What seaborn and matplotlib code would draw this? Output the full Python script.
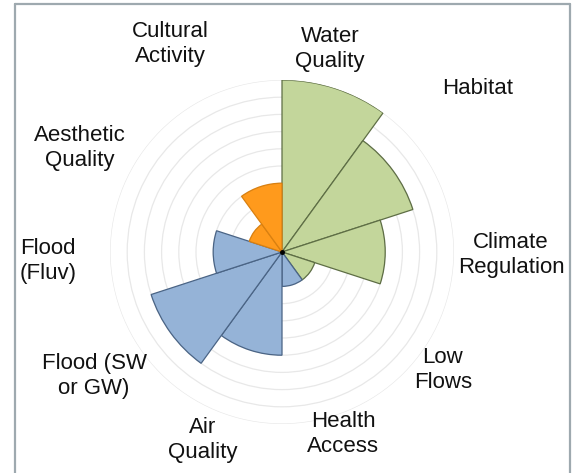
import numpy as np
import matplotlib
matplotlib.use("Agg")
import matplotlib.pyplot as plt
import seaborn as sns
from matplotlib.lines import Line2D

# ---- data ----
categories = ["Water\nQuality", "Habitat", "Climate\nRegulation", "Low\nFlows",
              "Health\nAccess", "Air\nQuality", "Flood (SW\nor GW)", "Flood\n(Fluv)",
              "Aesthetic\nQuality", "Cultural\nActivity"]
values = [10, 8, 6, 2, 2, 6, 8, 4, 2, 4]
groups = ["env", "env", "env", "env", "health", "health", "health", "health",
          "culture", "culture"]

# ---- styles ----
fill_colors = {"env": "#C3D69B", "health": "#95B3D7", "culture": "#FF9A1C"}
edge_colors = {"env": "#5E6E45", "health": "#4A6485", "culture": "#D98010"}
# label anchor positions in pixels (x, y from top)
label_px = [(330, 49), (478, 88), (511, 255), (443, 370), (343, 434),
            (203, 440), (94, 376), (48, 261), (80, 148), (170, 44)]

sns.set_theme(style="white")
plt.rcParams['font.family'] = ['Liberation Sans', 'DejaVu Sans']

W, H = 576, 473
fig = plt.figure(figsize=(W / 100, H / 100), dpi=100)
cx, cy, R = 282, 252, 172
ax = fig.add_axes([(cx - R) / W, (H - cy - R) / H, 2 * R / W, 2 * R / H],
                  projection="polar")
ax.set_theta_zero_location("N")
ax.set_theta_direction(-1)

n = len(values)
width = 2 * np.pi / n
theta = np.arange(n) * width + width / 2
ax.bar(theta, values, width=width, bottom=0,
       color=[fill_colors[g] for g in groups],
       edgecolor=[edge_colors[g] for g in groups], linewidth=0.9, zorder=3)

ax.set_ylim(0, 10)
ax.set_yticks(np.arange(1, 11))
ax.set_yticklabels([])
ax.set_xticks([])
ax.grid(False)
ax.yaxis.grid(True, color="#E8E8E8", linewidth=0.9)
ax.xaxis.grid(False)
ax.spines["polar"].set_visible(False)
ax.set_facecolor("none")
ax.plot([0], [0], marker="o", color="black", markersize=2.5, zorder=5)

for lab, (px, py) in zip(categories, label_px):
    fig.text(px / W, 1 - py / H, lab, ha="center", va="center",
             fontsize=16, color="#111111", linespacing=1.2)

# frame (left, top, right)
fc = "#9EA9AF"
fig.add_artist(Line2D([15 / W, 15 / W], [0, 1 - 4 / H], color=fc, lw=1.6,
                      transform=fig.transFigure))
fig.add_artist(Line2D([15 / W, 570 / W], [1 - 4 / H, 1 - 4 / H], color=fc, lw=1.6,
                      transform=fig.transFigure))
fig.add_artist(Line2D([570 / W, 570 / W], [0, 1 - 4 / H], color=fc, lw=1.6,
                      transform=fig.transFigure))

fig.savefig("out.png", dpi=100, facecolor="white")
